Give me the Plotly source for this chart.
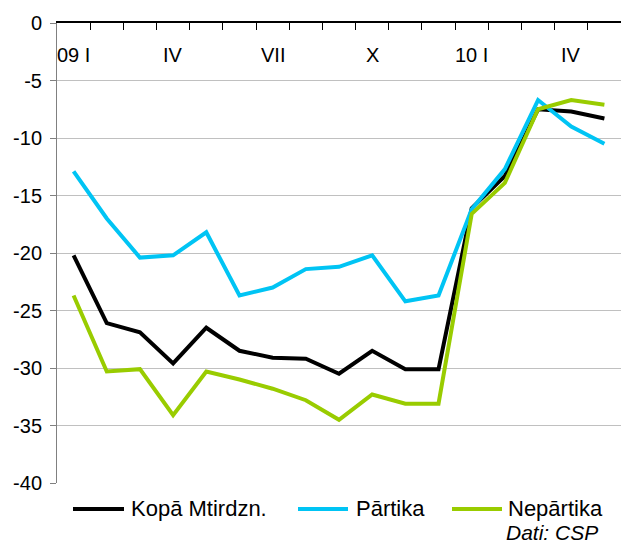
import plotly.graph_objects as go

months = ["2009-01", "2009-02", "2009-03", "2009-04", "2009-05", "2009-06",
          "2009-07", "2009-08", "2009-09", "2009-10", "2009-11", "2009-12",
          "2010-01", "2010-02", "2010-03", "2010-04", "2010-05"]
month_labels = ["09 I", "", "", "IV", "", "", "VII", "", "", "X", "", "",
                "10 I", "", "", "IV", ""]

kopa = [-20.2, -26.1, -26.9, -29.6, -26.5, -28.5, -29.1, -29.2, -30.5, -28.5,
        -30.1, -30.1, -16.1, -13.3, -7.5, -7.7, -8.3]
partika = [-12.9, -17.0, -20.4, -20.2, -18.2, -23.7, -23.0, -21.4, -21.2, -20.2,
           -24.2, -23.7, -16.2, -12.7, -6.7, -9.0, -10.5]
nepartika = [-23.7, -30.3, -30.1, -34.1, -30.3, -31.0, -31.8, -32.8, -34.5, -32.3,
             -33.1, -33.1, -16.6, -13.9, -7.5, -6.7, -7.1]

series_names = ["Kopā Mtirdzn.", "Pārtika", "Nepārtika"]
series_values = [kopa, partika, nepartika]
series_colors = ["#000000", "#00c4f4", "#99cc00"]

y_ticks = [0, -5, -10, -15, -20, -25, -30, -35, -40]
y_tick_labels = ["0", "-5", "-10", "-15", "-20", "-25", "-30", "-35", "-40"]
source_note = "Dati: CSP"

FONT = "Liberation Sans, Arial, sans-serif"

n = len(months)
month_pos = list(range(n))                      # position of each month on the axis
boundaries = [i - 0.5 for i in range(n + 1)]    # tick marks between months

fig = go.Figure()
for name, vals, col in zip(series_names, series_values, series_colors):
    fig.add_trace(go.Scatter(x=month_pos, y=vals, mode="lines", name=name,
                             customdata=months, hovertemplate="%{customdata}: %{y}",
                             line=dict(color=col, width=4), showlegend=False))

# plot area geometry in pixels (for the hand-drawn legend)
W, H = 621, 545
ml, mr, mt, mb = 57, 0, 23, 62
pw, ph = W - ml - mr, H - mt - mb


def px_x(p):
    return (p - ml) / pw


def px_y(p):
    return (H - mb - p) / ph


# month labels sit just below the top axis line, inside the plot
for pos, lab in zip(month_pos, month_labels):
    if lab:
        fig.add_annotation(x=pos, xref="x", yref="paper", y=px_y(55), text=lab,
                           showarrow=False, xanchor="center", yanchor="middle",
                           font=dict(family=FONT, size=20, color="#000000"))

legend_items = [(73, 124, 129), (298, 348, 354), (452, 502, 506)]
for (x0, x1, xt), name, col in zip(legend_items, series_names, series_colors):
    fig.add_shape(type="line", xref="paper", yref="paper",
                  x0=px_x(x0), x1=px_x(x1), y0=px_y(509), y1=px_y(509),
                  line=dict(color=col, width=4))
    fig.add_annotation(xref="paper", yref="paper", x=px_x(xt), y=px_y(509),
                       text=name, showarrow=False, xanchor="left", yanchor="middle",
                       font=dict(family=FONT, size=22, color="#000000"))

fig.add_annotation(xref="paper", yref="paper", x=px_x(600), y=px_y(532),
                   text="<i>" + source_note + "</i>", showarrow=False,
                   xanchor="right", yanchor="middle",
                   font=dict(family=FONT, size=21, color="#000000"))

fig.update_layout(
    width=W, height=H,
    margin=dict(l=ml, r=mr, t=mt, b=mb, autoexpand=False),
    paper_bgcolor="white", plot_bgcolor="white",
    font=dict(family=FONT, size=20, color="#000000"),
    xaxis=dict(type="linear", side="top", range=[-0.5, n - 0.5],
               tickmode="array", tickvals=boundaries,
               ticktext=[""] * len(boundaries),
               ticks="inside", ticklen=7, tickcolor="#000000", tickwidth=1,
               tickangle=0,
               showline=True, linecolor="#000000", linewidth=1.5,
               showgrid=False, zeroline=False, automargin=False),
    yaxis=dict(range=[-40, 0], tickmode="array", tickvals=y_ticks,
               ticktext=y_tick_labels,
               ticks="outside", ticklen=6, tickcolor="#808080",
               showline=True, linecolor="#808080", linewidth=1,
               showgrid=True, gridcolor="#c0c0c0", gridwidth=1,
               zeroline=False, ticklabelstandoff=4, automargin=False,
               tickfont=dict(family=FONT, size=20, color="#000000")),
)

fig.write_html("out.html", config={"displayModeBar": False},
               post_script="document.body.style.margin='0';document.body.style.padding='0';")
